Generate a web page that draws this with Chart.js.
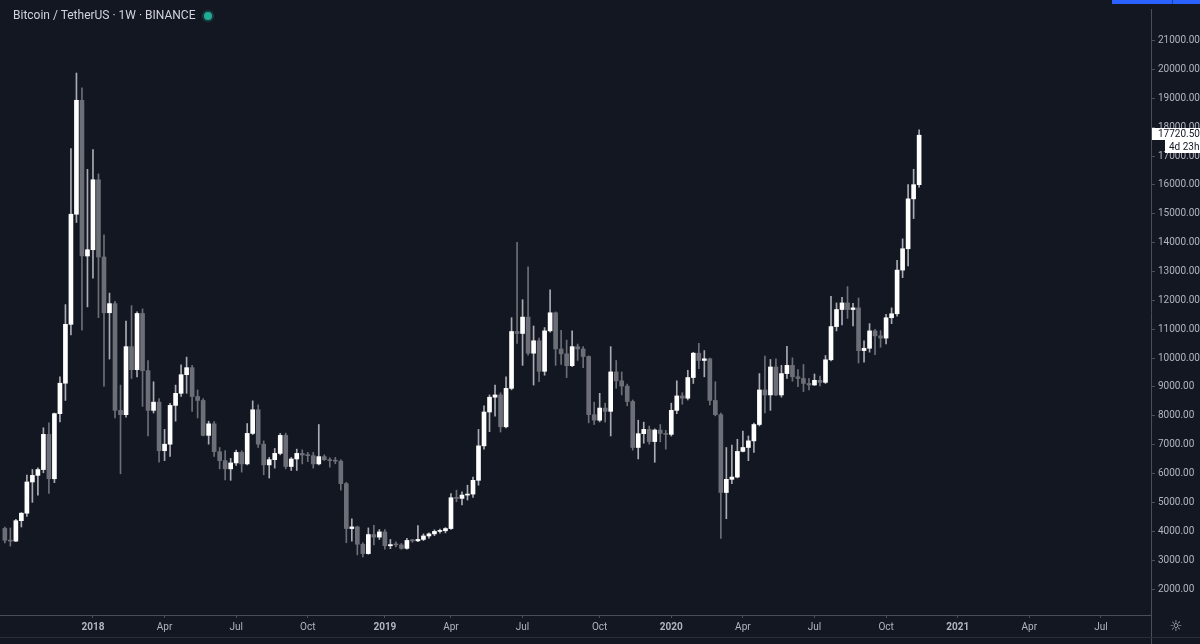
<!DOCTYPE html>
<html>
<head>
<meta charset="utf-8">
<title>BTCUSDT 1W</title>
<script src="https://cdn.jsdelivr.net/npm/chart.js@4.4.1/dist/chart.umd.min.js"></script>
<style>
  html, body { margin: 0; padding: 0; background: #131722; }
  #wrap { position: relative; width: 1200px; height: 644px; overflow: hidden; }
  #title {
    position: absolute; left: 13px; top: 8px;
    font: 12px Roboto, sans-serif; line-height: 14px;
    color: #d1d4dc; white-space: nowrap;
  }
  #status {
    position: absolute; left: 204px; top: 12px; width: 8px; height: 8px;
    border-radius: 50%; background: #22ab94;
    box-shadow: 0 0 0 2px rgba(34, 171, 148, 0.25);
  }
</style>
</head>
<body>
<div id="wrap">
  <canvas id="priceChart" width="1200" height="644"></canvas>
  <div id="title">Bitcoin / TetherUS · 1W · BINANCE</div>
  <div id="status"></div>
</div>
<script>
// weekly candles, x = weeks counted from the week of 1 Jan 2018
const firstWeek = -16;

const opens = [
  4100, 3690, 3662, 4369, 4628, 5710, 5938, 6140, 7358, 5822,
  8076, 9130, 11170, 14983, 18930, 13536, 13754, 16177, 13502, 11570,
  11887, 8190, 8041, 10397, 9600, 11546, 9566, 8190, 8474, 6792,
  7018, 8362, 8781, 9425, 9669, 8669, 8533, 7324, 7724, 6758,
  6449, 6164, 6369, 6734, 6335, 7392, 8210, 7018, 6301, 6483,
  6700, 7324, 6245, 6506, 6700, 6643, 6621, 6335, 6587, 6483,
  6449, 6430, 5652, 4096, 4153, 3553, 3228, 3889, 3800, 3980,
  3500, 3540, 3530, 3410, 3684, 3670, 3720, 3840, 3912, 3997,
  4020, 4096, 5164, 5141, 5256, 5290, 5767, 6961, 8133, 8645,
  8724, 7621, 8952, 10921, 10853, 11420, 10170, 10600, 9543, 10943,
  11570, 10317, 10147, 9737, 10397, 10317, 10055, 8041, 7849, 8270,
  8156, 9522, 9214, 9032, 8498, 6904, 7382, 7530, 7109, 7508,
  7392, 7358, 8190, 8690, 8611, 9327, 10170, 9918, 9976, 8533,
  8041, 5345, 5801, 5880, 6768, 6904, 7133, 7700, 8896, 8724,
  9693, 8724, 9464, 9748, 9352, 9294, 9122, 9070, 9230, 9160,
  9942, 11092, 11683, 11911, 11683, 11740, 10260, 10341, 10943, 10771,
  10693, 11399, 11536, 13048, 13788, 15516, 16007
];
const highs = [
  4150, 4116, 4420, 4650, 5948, 6143, 6200, 7587, 7758, 8100,
  9352, 11853, 17256, 19874, 19362, 16540, 17222, 16380, 14267, 12252,
  11966, 9066, 11283, 11819, 11600, 11706, 9918, 9181, 8600, 7530,
  8430, 9066, 9771, 10034, 9750, 8896, 8600, 7815, 7800, 6904,
  6800, 6528, 6813, 6791, 7734, 8519, 8381, 7133, 6563, 6870,
  7392, 7400, 6560, 6847, 6824, 6734, 6734, 7700, 6650, 6550,
  6560, 6480, 5700, 4437, 4180, 3604, 4119, 4210, 4062, 4062,
  3718, 3640, 3580, 3754, 3720, 4199, 3912, 3950, 4050, 4080,
  4130, 5311, 5426, 5369, 5597, 5880, 7530, 8348, 8724, 9066,
  8800, 9352, 11399, 14014, 12024, 13160, 11113, 10693, 11058, 12365,
  11600, 10966, 10625, 10943, 10488, 10400, 10080, 8474, 8781, 8440,
  10397, 9918, 9522, 9100, 8550, 7849, 7781, 7645, 7550, 7700,
  7500, 8440, 9214, 8800, 9578, 10200, 10512, 10261, 10000, 9181,
  8100, 6904, 6984, 7187, 7474, 7303, 7750, 9464, 10068, 9952,
  9976, 9748, 10409, 10010, 9601, 9780, 9300, 9450, 9380, 10090,
  12137, 11911, 12103, 12478, 11900, 12081, 10600, 11194, 11000, 10950,
  11512, 11740, 13389, 14130, 16007, 16540, 17905
];
const lows = [
  3600, 3490, 3640, 4150, 4515, 5003, 5256, 6028, 5311, 5686,
  7792, 8533, 10805, 14697, 10966, 11775, 12765, 11400, 9032, 9966,
  7928, 5993, 7950, 9294, 9352, 8327, 7303, 8099, 6392, 6449,
  6597, 7815, 8669, 8781, 8156, 7928, 7303, 7018, 6597, 6164,
  5778, 5767, 6279, 6051, 6300, 7350, 6904, 5959, 5846, 6188,
  6650, 6164, 6108, 6108, 6335, 6416, 6188, 6300, 6450, 6222,
  6340, 5426, 3604, 3662, 3184, 3116, 3207, 3530, 3718, 3378,
  3400, 3460, 3380, 3380, 3620, 3640, 3680, 3760, 3850, 3940,
  3946, 4062, 5027, 4915, 5085, 5176, 5597, 6847, 7450, 7986,
  7440, 7580, 8900, 10512, 9748, 10100, 9066, 9181, 9406, 10900,
  9748, 9782, 9327, 9700, 9918, 9669, 7758, 7700, 7790, 7781,
  7303, 8952, 8724, 8348, 6813, 6506, 7052, 7018, 6392, 7098,
  6847, 7300, 8076, 8400, 8550, 9122, 9635, 9352, 8381, 8000,
  3754, 4437, 5652, 5850, 6750, 6449, 6734, 7650, 8099, 8190,
  8700, 8650, 9294, 9200, 9010, 8840, 8900, 9050, 9040, 9120,
  9900, 10943, 11147, 11375, 11113, 9830, 9863, 10205, 10123, 10375,
  10488, 11194, 11454, 12785, 13195, 14833, 15925
];
const closes = [
  3690, 3662, 4369, 4628, 5710, 5938, 6140, 7358, 5822, 8076,
  9130, 11170, 14983, 18930, 13536, 13754, 16177, 13502, 11570, 11887,
  8190, 8041, 10397, 9600, 11546, 9566, 8190, 8474, 6792, 7018,
  8362, 8781, 9425, 9669, 8669, 8533, 7324, 7724, 6758, 6449,
  6164, 6369, 6734, 6335, 7392, 8210, 7018, 6301, 6483, 6700,
  7324, 6245, 6506, 6700, 6643, 6621, 6335, 6587, 6483, 6449,
  6430, 5652, 4096, 4153, 3553, 3228, 3889, 3800, 3980, 3500,
  3540, 3530, 3410, 3684, 3670, 3720, 3840, 3912, 3997, 4020,
  4096, 5164, 5141, 5256, 5290, 5767, 6961, 8133, 8645, 8724,
  7621, 8952, 10921, 10853, 11420, 10170, 10600, 9543, 10943, 11570,
  10317, 10147, 9737, 10397, 10317, 10055, 8041, 7849, 8270, 8156,
  9522, 9214, 9032, 8498, 6904, 7382, 7530, 7109, 7508, 7392,
  7358, 8190, 8690, 8611, 9327, 10170, 9918, 9976, 8533, 8041,
  5345, 5801, 5880, 6768, 6904, 7133, 7700, 8896, 8724, 9693,
  8724, 9464, 9748, 9352, 9294, 9122, 9070, 9230, 9160, 9942,
  11092, 11683, 11911, 11683, 11740, 10260, 10341, 10943, 10771, 10693,
  11399, 11536, 13048, 13788, 15516, 16007, 17720.5
];

const priceTicks = [2000, 3000, 4000, 5000, 6000, 7000, 8000, 9000, 10000, 11000,
  12000, 13000, 14000, 15000, 16000, 17000, 18000, 19000, 20000, 21000];
const timeTickWeeks = [0, 13, 26, 39, 53, 65, 78, 92, 105, 118, 131, 144, 157, 170, 183];
const timeTickLabels = ['2018', 'Apr', 'Jul', 'Oct', '2019', 'Apr', 'Jul', 'Oct',
  '2020', 'Apr', 'Jul', 'Oct', '2021', 'Apr', 'Jul'];

const lastPrice = 17720.50;
const countdown = '4d 23h';

const BG = '#131722';
const TEXT = '#b2b5be';
const AXIS = '#4a4e5a';
const UP = '#ffffff';
const DOWN = '#6c6f77';
const WICK_UP = '#a9acb3';
const WICK_DOWN = '#6c6f77';

const isUp = closes.map((c, i) => c >= opens[i]);
const bodies = closes.map((c, i) => ({ x: firstWeek + i, y: [opens[i], c] }));
const wicks = closes.map((c, i) => ({ x: firstWeek + i, y: [lows[i], highs[i]] }));

/* background, price tag and the little bits of chart chrome */
const chrome = {
  id: 'chrome',
  beforeDraw(chart) {
    const c = chart.ctx;
    c.save();
    c.fillStyle = BG;
    c.fillRect(0, 0, chart.width, chart.height);
    c.restore();
  },
  afterDraw(chart) {
    const c = chart.ctx;
    const area = chart.chartArea;
    const y = chart.scales.y;
    c.save();

    c.strokeStyle = AXIS;
    c.lineWidth = 1;
    c.beginPath();
    c.moveTo(area.right + 0.5, area.bottom);
    c.lineTo(area.right + 0.5, chart.height);
    c.stroke();
    c.strokeStyle = '#2a2e39';
    c.beginPath();
    c.moveTo(0, 637.5);
    c.lineTo(chart.width, 637.5);
    c.stroke();

    // last price + bar countdown
    const py = Math.round(y.getPixelForValue(lastPrice));
    c.fillStyle = '#ffffff';
    c.fillRect(area.right + 1, py - 7, chart.width - area.right - 1, 12);
    c.fillRect(1165, py + 5, 35, 13);
    c.fillStyle = BG;
    c.font = '10px Roboto';
    c.textBaseline = 'middle';
    c.fillText(lastPrice.toFixed(2), area.right + 7, py - 1);
    c.fillText(countdown, 1169, py + 12);

    // settings glyph
    c.fillStyle = TEXT;
    c.font = '15px "DejaVu Sans"';
    c.textAlign = 'center';
    c.fillText('\u263C', 1176, 627);

    // top-right toolbar edge
    c.fillStyle = '#2962ff';
    c.fillRect(1112, 0, 88, 4);
    c.fillStyle = '#1e3f9e';
    c.fillRect(1172, 0, 1, 4);

    c.restore();
  }
};

const ctx = document.getElementById('priceChart');

new Chart(ctx, {
  type: 'bar',
  data: {
    datasets: [
      {
        data: bodies,
        backgroundColor: isUp.map(u => (u ? UP : DOWN)),
        barThickness: 4,
        minBarLength: 1,
        order: 0
      },
      {
        data: wicks,
        backgroundColor: isUp.map(u => (u ? WICK_UP : WICK_DOWN)),
        barThickness: 1,
        order: 1
      }
    ]
  },
  options: {
    responsive: false,
    animation: false,
    devicePixelRatio: 1,
    layout: { padding: 0 },
    datasets: { bar: { grouped: false } },
    plugins: {
      legend: { display: false },
      tooltip: { enabled: false }
    },
    scales: {
      x: {
        type: 'linear',
        min: -16.88,
        max: 192.1,
        offset: false,
        grid: { drawOnChartArea: false, drawTicks: true, tickLength: 3, color: AXIS, offset: false },
        border: { display: true, color: AXIS },
        afterBuildTicks: s => { s.ticks = timeTickWeeks.map(v => ({ value: v })); },
        afterFit: s => { s.height = 29; },
        ticks: {
          autoSkip: false,
          maxRotation: 0,
          padding: 3,
          color: TEXT,
          font: c => ({
            family: 'Roboto',
            size: 10,
            weight: /^\d{4}$/.test(timeTickLabels[c.index]) ? 'bold' : 'normal'
          }),
          callback: (v, i) => timeTickLabels[i]
        }
      },
      y: {
        position: 'right',
        min: 1102,
        max: 22092,
        grid: { drawOnChartArea: false, drawTicks: true, tickLength: 4, color: AXIS },
        border: { display: true, color: AXIS },
        afterBuildTicks: s => { s.ticks = priceTicks.map(v => ({ value: v })); },
        afterFit: s => { s.width = 49; },
        ticks: {
          padding: 3,
          color: TEXT,
          font: { family: 'Roboto', size: 10 },
          callback: v => v.toFixed(2)
        }
      }
    }
  },
  plugins: [chrome]
});
</script>
</body>
</html>
